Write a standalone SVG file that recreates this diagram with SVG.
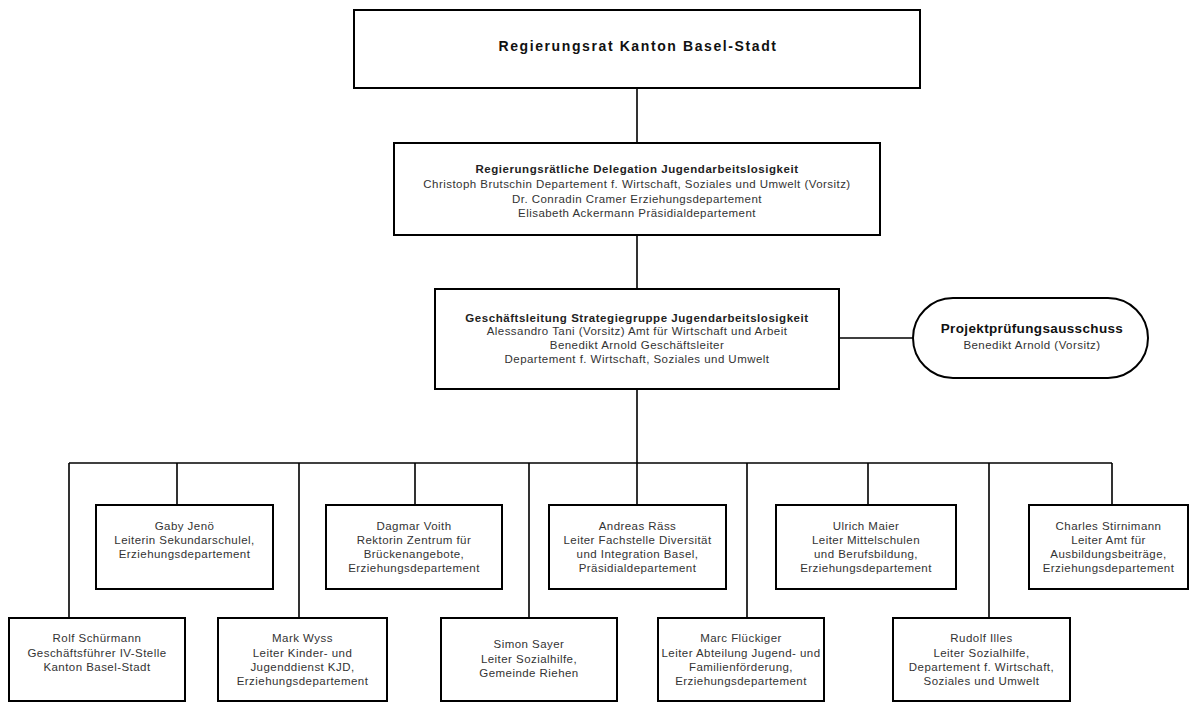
<svg xmlns="http://www.w3.org/2000/svg" width="1190" height="702" viewBox="0 0 1190 702">
<style>
.box{fill:#fff;stroke:#000;stroke-width:2}
.c{fill:none;stroke:#000;stroke-width:1.6}
text{font-family:"Liberation Sans",Arial,sans-serif;text-anchor:middle}
.t{font-size:11.5px;fill:#333;letter-spacing:0.45px}
.b{font-size:11.5px;font-weight:bold;fill:#222;letter-spacing:0.55px}
.h{font-size:14px;font-weight:bold;fill:#111;letter-spacing:1.6px}
.p{font-size:13.5px;font-weight:bold;fill:#111;letter-spacing:0.35px}
</style>
<rect width="1190" height="702" fill="#fff"/>
<g id="connectors">
<path class="c" d="M637 88V143M637 235V289M637 389V463M839 338H913"/>
<path class="c" d="M69 463H1112"/>
<path class="c" d="M177 463V505M415 463V505M637 463V505M868 463V505M1112 463V505"/>
<path class="c" d="M69 463V618M299 463V618M529 463V618M747 463V618M989 463V618"/>
</g>
<g id="regierungsrat">
<rect class="box" x="354" y="10" width="566" height="78"/>
<text class="h" x="638" y="51">Regierungsrat Kanton Basel-Stadt</text>
</g>
<g id="delegation">
<rect class="box" x="394" y="143" width="486" height="92"/>
<text class="b" x="637" y="173">Regierungsrätliche Delegation Jugendarbeitslosigkeit</text>
<text class="t" x="637" y="188">Christoph Brutschin Departement f. Wirtschaft, Soziales und Umwelt (Vorsitz)</text>
<text class="t" x="637" y="202.5">Dr. Conradin Cramer Erziehungsdepartement</text>
<text class="t" x="637" y="217">Elisabeth Ackermann Präsidialdepartement</text>
</g>
<g id="geschaeftsleitung">
<rect class="box" x="435" y="289" width="404" height="100"/>
<text class="b" x="637" y="321.5">Geschäftsleitung Strategiegruppe Jugendarbeitslosigkeit</text>
<text class="t" x="637" y="335">Alessandro Tani (Vorsitz) Amt für Wirtschaft und Arbeit</text>
<text class="t" x="637" y="349">Benedikt Arnold Geschäftsleiter</text>
<text class="t" x="637" y="362.5">Departement f. Wirtschaft, Soziales und Umwelt</text>
</g>
<g id="projektpruefung">
<rect class="box" x="913" y="298" width="235" height="80" rx="40" ry="40"/>
<text class="p" x="1032" y="333">Projektprüfungsausschuss</text>
<text class="t" x="1032" y="349">Benedikt Arnold (Vorsitz)</text>
</g>
<g id="jenoe">
<rect class="box" x="96" y="505" width="177" height="84"/>
<text class="t" x="184.5" y="530">Gaby Jenö</text>
<text class="t" x="184.5" y="544">Leiterin Sekundarschulel,</text>
<text class="t" x="184.5" y="558">Erziehungsdepartement</text>
</g>
<g id="voith">
<rect class="box" x="326" y="505" width="176" height="84"/>
<text class="t" x="414" y="530">Dagmar Voith</text>
<text class="t" x="414" y="544">Rektorin Zentrum für</text>
<text class="t" x="414" y="558">Brückenangebote,</text>
<text class="t" x="414" y="572">Erziehungsdepartement</text>
</g>
<g id="raess">
<rect class="box" x="549" y="505" width="177" height="84"/>
<text class="t" x="637.5" y="530">Andreas Räss</text>
<text class="t" x="637.5" y="544">Leiter Fachstelle Diversität</text>
<text class="t" x="637.5" y="558">und Integration Basel,</text>
<text class="t" x="637.5" y="572">Präsidialdepartement</text>
</g>
<g id="maier">
<rect class="box" x="776" y="505" width="180" height="84"/>
<text class="t" x="866" y="530">Ulrich Maier</text>
<text class="t" x="866" y="544">Leiter Mittelschulen</text>
<text class="t" x="866" y="558">und Berufsbildung,</text>
<text class="t" x="866" y="572">Erziehungsdepartement</text>
</g>
<g id="stirnimann">
<rect class="box" x="1029" y="505" width="159" height="84"/>
<text class="t" x="1108.5" y="530">Charles Stirnimann</text>
<text class="t" x="1108.5" y="544">Leiter Amt für</text>
<text class="t" x="1108.5" y="558">Ausbildungsbeiträge,</text>
<text class="t" x="1108.5" y="572">Erziehungsdepartement</text>
</g>
<g id="schuermann">
<rect class="box" x="9" y="618" width="176" height="83"/>
<text class="t" x="97" y="642">Rolf Schürmann</text>
<text class="t" x="97" y="657">Geschäftsführer IV-Stelle</text>
<text class="t" x="97" y="671">Kanton Basel-Stadt</text>
</g>
<g id="wyss">
<rect class="box" x="218" y="618" width="169" height="83"/>
<text class="t" x="302.5" y="642">Mark Wyss</text>
<text class="t" x="302.5" y="657">Leiter Kinder- und</text>
<text class="t" x="302.5" y="671">Jugenddienst KJD,</text>
<text class="t" x="302.5" y="685">Erziehungsdepartement</text>
</g>
<g id="sayer">
<rect class="box" x="441" y="618" width="176" height="83"/>
<text class="t" x="529" y="648">Simon Sayer</text>
<text class="t" x="529" y="663">Leiter Sozialhilfe,</text>
<text class="t" x="529" y="677">Gemeinde Riehen</text>
</g>
<g id="flueckiger">
<rect class="box" x="658" y="618" width="166" height="83"/>
<text class="t" x="741" y="642">Marc Flückiger</text>
<text class="t" x="741" y="657">Leiter Abteilung Jugend- und</text>
<text class="t" x="741" y="671">Familienförderung,</text>
<text class="t" x="741" y="685">Erziehungsdepartement</text>
</g>
<g id="illes">
<rect class="box" x="893" y="618" width="177" height="83"/>
<text class="t" x="981.5" y="642">Rudolf Illes</text>
<text class="t" x="981.5" y="657">Leiter Sozialhilfe,</text>
<text class="t" x="981.5" y="671">Departement f. Wirtschaft,</text>
<text class="t" x="981.5" y="685">Soziales und Umwelt</text>
</g>
</svg>
